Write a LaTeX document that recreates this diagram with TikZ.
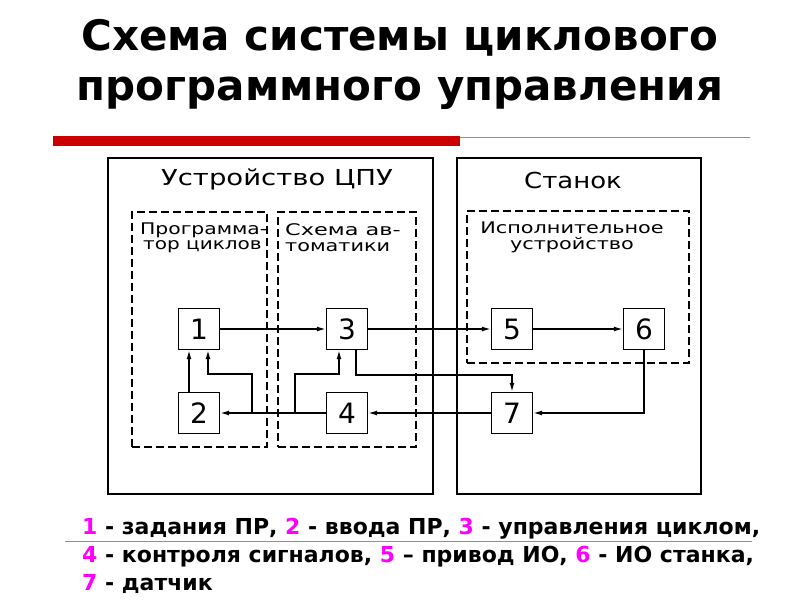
\documentclass[tikz,border=0pt]{standalone}
\usepackage{fontspec}
\setmainfont{DejaVu Sans}
\usetikzlibrary{arrows.meta}
\definecolor{mag}{RGB}{255,0,255}
\definecolor{barred}{RGB}{204,0,0}
\definecolor{thinred}{RGB}{205,120,110}
\begin{document}
\begin{tikzpicture}[x=1pt,y=-1pt,
  blk/.style={draw, line width=1.4pt, minimum width=41pt, minimum height=41pt, inner sep=0pt, font=\fontsize{28}{28}\selectfont},
  outerbox/.style={draw, line width=1.6pt, inner sep=0pt},
  dbox/.style={draw, line width=1.5pt, dash pattern=on 8pt off 4pt, inner sep=0pt},
  arr/.style={line width=1.4pt, -{Latex[length=9pt,width=5pt]}},
  big/.style={font=\fontsize{22}{22}\selectfont, inner sep=0pt},
  small/.style={font=\fontsize{16}{16}\selectfont, inner sep=0pt},
]
\useasboundingbox (0,0) rectangle (800,600);

% title
\node[font=\bfseries\fontsize{42}{50}\selectfont, align=center] (title) at (400,64)
  {Схема системы циклового\\программного управления};

% red bar
\fill[barred] (53,136) rectangle (460,146);
\coordinate (rb1) at (460,137);
\coordinate (rb2) at (750,137);
\draw[thinred, line width=1pt] (rb1) -- (rb2);

% outer boxes
\node[outerbox, minimum width=325pt, minimum height=336pt] (cpu) at (270.5,326) {};
\node[outerbox, minimum width=244pt, minimum height=336pt] (st) at (579,326) {};

% dashed boxes
\node[dbox, minimum width=135pt, minimum height=235pt] (pc) at (199.5,329.5) {};
\node[dbox, minimum width=138pt, minimum height=235pt] (sa) at (347,329.5) {};
\node[dbox, minimum width=222pt, minimum height=152pt] (iu) at (578,287) {};

% labels
\node[big] (lcpu) at (277,179) {\scalebox{1.25}[1]{Устройство ЦПУ}};
\node[big] (lst) at (573,180) {\scalebox{1.18}[1]{Станок}};
\node[small, anchor=west] (lp1) at (140,230) {\scalebox{1.27}[1]{Программа-}};
\node[small, anchor=west] (lp2) at (143,247) {\scalebox{1.25}[1]{тор циклов}};
\node[small, anchor=west] (ls1) at (285,230) {\scalebox{1.4}[1]{Схема ав-}};
\node[small, anchor=west] (ls2) at (285,247) {\scalebox{1.3}[1]{томатики}};
\node[small] (li1) at (572,228) {\scalebox{1.3}[1]{Исполнительное}};
\node[small] (li2) at (572,245) {\scalebox{1.3}[1]{устройство}};

% blocks
\node[blk] (1) at (199,329) {1};
\node[blk] (2) at (199,413) {2};
\node[blk] (3) at (347,329) {3};
\node[blk] (4) at (347,413) {4};
\node[blk] (5) at (512,329) {5};
\node[blk] (6) at (644,329) {6};
\node[blk] (7) at (512,413) {7};

% connectors
\draw[arr] (1) -- (3);
\draw[arr] (3) -- (5);
\draw[arr] (5) -- (6);
\draw[arr] (6.south) |- (7.east);
\draw[arr] (7) -- (4);
\draw[arr] (4) -- (2);
\coordinate (c21) at (189,0);
\draw[arr] (2.north -| c21) -- (1.south -| c21);
\coordinate (j1) at (252,413);
\coordinate (k1) at (208,374);
\draw[arr] (j1) |- (k1) -- (k1 |- 1.south);
\coordinate (j2) at (295,413);
\coordinate (k2) at (339,374);
\draw[arr] (j2) |- (k2) -- (k2 |- 3.south);
\coordinate (m3) at (356,375);
\draw[arr] (3.south -| m3) -- (m3) -| (7.north);

% thin line under first legend line
\coordinate (tl1) at (65,541);
\coordinate (tl2) at (752,541);
\draw[thinred, line width=1pt] (tl1) -- (tl2);

% legend
\node[anchor=base west, align=left, inner sep=0pt, font=\bfseries\fontsize{22}{28}\selectfont] (leg) at (82,590)
 {{\color{mag}1} - задания ПР, {\color{mag}2} - ввода ПР, {\color{mag}3} - управления циклом,\\
  {\color{mag}4} - контроля сигналов, {\color{mag}5} – привод ИО, {\color{mag}6} - ИО станка,\\
  {\color{mag}7} - датчик};
\end{tikzpicture}
\end{document}
